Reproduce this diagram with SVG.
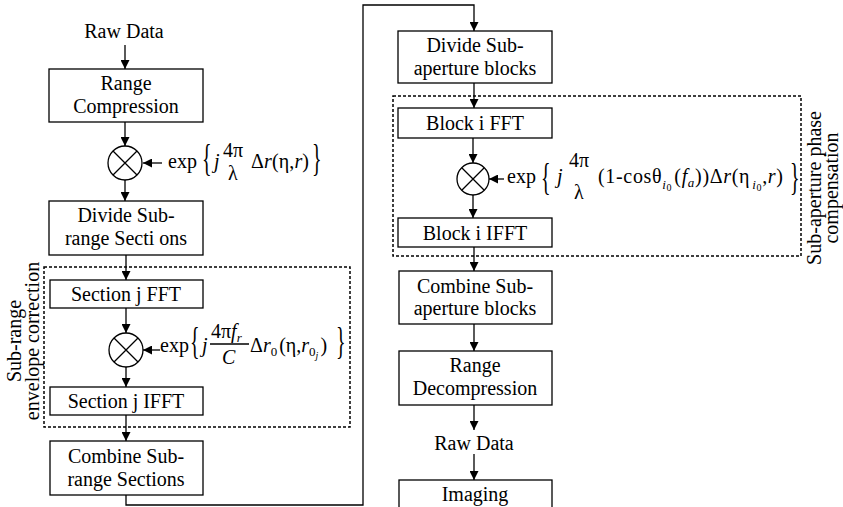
<svg xmlns="http://www.w3.org/2000/svg" width="843" height="507" viewBox="0 0 843 507" font-family="'Liberation Serif', 'Times New Roman', Times, serif">
<style>
.t{font-family:'Liberation Serif','Times New Roman',Times,serif;font-size:20px;fill:#000}
.c{text-anchor:middle}
.i{font-style:italic}
.s{font-size:13px}
.ss{font-size:10px}
.box{fill:#fff;stroke:#000;stroke-width:1.3}
.dash{fill:none;stroke:#000;stroke-width:1.5;stroke-dasharray:3 2}
.ln{fill:none;stroke:#000;stroke-width:1.3}
.mul{fill:#fff;stroke:#000;stroke-width:1.3}
</style>
<defs>
<marker id="ah" viewBox="0 0 10 10" refX="10" refY="5" markerWidth="10" markerHeight="9" markerUnits="userSpaceOnUse" orient="auto">
<path d="M0,0 L10,5 L0,10 z" fill="#000"/>
</marker>
</defs>
<rect width="843" height="507" fill="#fff"/>

<g id="group-subrange">
<rect class="dash" x="44" y="267" width="306" height="160"/>
<text class="t c" transform="translate(21,341) rotate(-90)">Sub-range</text>
<text class="t c" transform="translate(39,341) rotate(-90)">envelope correction</text>
</g>
<g id="group-subaperture">
<rect class="dash" x="393" y="96" width="408" height="160"/>
<text class="t c" transform="translate(821,188) rotate(-90)">Sub-aperture phase</text>
<text class="t c" transform="translate(838,188) rotate(-90)">compensation</text>
</g>

<g id="connectors">
<line class="ln" x1="125" y1="45" x2="125" y2="69" marker-end="url(#ah)"/>
<line class="ln" x1="125" y1="122" x2="125" y2="146" marker-end="url(#ah)"/>
<line class="ln" x1="162" y1="163" x2="143" y2="163" marker-end="url(#ah)"/>
<line class="ln" x1="125" y1="180" x2="125" y2="201" marker-end="url(#ah)"/>
<line class="ln" x1="126" y1="255" x2="126" y2="280" marker-end="url(#ah)"/>
<line class="ln" x1="126" y1="308" x2="126" y2="333" marker-end="url(#ah)"/>
<line class="ln" x1="160" y1="350" x2="143" y2="350" marker-end="url(#ah)"/>
<line class="ln" x1="126" y1="367" x2="126" y2="387" marker-end="url(#ah)"/>
<line class="ln" x1="126" y1="415" x2="126" y2="441" marker-end="url(#ah)"/>
<polyline class="ln" points="126,495 126,505 363,505 363,5 474,5 474,31" marker-end="url(#ah)"/>
<line class="ln" x1="474" y1="83" x2="474" y2="108" marker-end="url(#ah)"/>
<line class="ln" x1="473" y1="138" x2="473" y2="163" marker-end="url(#ah)"/>
<line class="ln" x1="504" y1="179" x2="489" y2="179" marker-end="url(#ah)"/>
<line class="ln" x1="473" y1="195" x2="473" y2="218" marker-end="url(#ah)"/>
<line class="ln" x1="474" y1="247" x2="474" y2="271" marker-end="url(#ah)"/>
<line class="ln" x1="474" y1="324" x2="474" y2="351" marker-end="url(#ah)"/>
<line class="ln" x1="474" y1="405" x2="474" y2="430" marker-end="url(#ah)"/>
<line class="ln" x1="474" y1="454" x2="474" y2="480" marker-end="url(#ah)"/>
</g>

<g id="raw-data-in"><text class="t c" x="124" y="38">Raw Data</text></g>
<g id="range-compression">
<rect class="box" x="49" y="69" width="154" height="53"/>
<text class="t c" x="126" y="90">Range</text>
<text class="t c" x="126" y="113">Compression</text>
</g>
<g id="mult1">
<circle class="mul" cx="125" cy="163" r="17"/>
<path class="ln" d="M113,151 L137,175 M137,151 L113,175"/>
</g>
<g id="formula1">
<text class="t" x="168" y="168">exp</text>
<text class="t" transform="translate(202,171) scale(1,1.9)">{</text>
<text class="t i" x="214" y="168">j</text>
<text class="t" x="223" y="157">4π</text>
<text class="t" x="228" y="180">λ</text>
<text class="t" x="251" y="168" textLength="58" lengthAdjust="spacing">Δ<tspan class="i">r</tspan>(η,<tspan class="i">r</tspan>)</text>
<text class="t" transform="translate(312,171) scale(1,1.9)">}</text>
</g>
<g id="divide-subrange">
<rect class="box" x="49" y="201" width="154" height="54"/>
<text class="t c" x="126" y="222">Divide Sub-</text>
<text class="t c" x="126" y="245">range Secti ons</text>
</g>
<g id="section-fft">
<rect class="box" x="50" y="280" width="153" height="28"/>
<text class="t c" x="126" y="301">Section j FFT</text>
</g>
<g id="mult2">
<circle class="mul" cx="126" cy="350" r="17"/>
<path class="ln" d="M114,338 L138,362 M138,338 L114,362"/>
</g>
<g id="formula2">
<text class="t" x="160" y="352">exp</text>
<text class="t" transform="translate(190,353.5) scale(1,1.9)">{</text>
<text class="t i" x="202" y="352">j</text>
<text class="t" x="211" y="338">4π<tspan class="i">f</tspan><tspan class="i s" dy="4">r</tspan></text>
<line class="ln" x1="210" y1="344" x2="249" y2="344" stroke-width="1"/>
<text class="t i" x="222" y="364">C</text>
<text class="t" x="250" y="352">Δ<tspan class="i">r</tspan><tspan class="s" dy="4">0</tspan><tspan dy="-4" dx="2">(η,</tspan><tspan class="i">r</tspan><tspan class="s" dy="4">0</tspan><tspan class="i ss" dy="3">j</tspan><tspan dy="-7" dx="2">)</tspan></text>
<text class="t" transform="translate(336,353.5) scale(1,1.9)">}</text>
</g>
<g id="section-ifft">
<rect class="box" x="50" y="387" width="153" height="28"/>
<text class="t c" x="126" y="408">Section j IFFT</text>
</g>
<g id="combine-subrange">
<rect class="box" x="50" y="441" width="153" height="54"/>
<text class="t c" x="126" y="463">Combine Sub-</text>
<text class="t c" x="126" y="486">range Sections</text>
</g>

<g id="divide-subaperture">
<rect class="box" x="398" y="31" width="154" height="52"/>
<text class="t c" x="475" y="52">Divide Sub-</text>
<text class="t c" x="475" y="75">aperture blocks</text>
</g>
<g id="block-fft">
<rect class="box" x="398" y="108" width="154" height="30"/>
<text class="t c" x="475" y="130">Block i FFT</text>
</g>
<g id="mult3">
<circle class="mul" cx="473" cy="179" r="16"/>
<path class="ln" d="M462,168 L484,190 M484,168 L462,190"/>
</g>
<g id="formula3">
<text class="t" x="507" y="183">exp</text>
<text class="t" transform="translate(541,189.5) scale(1,1.9)">{</text>
<text class="t i" x="557" y="183">j</text>
<text class="t" x="569" y="167">4π</text>
<text class="t" x="574" y="199">λ</text>
<text class="t" x="598" y="183" textLength="185" lengthAdjust="spacing">(1-cosθ<tspan class="i s" dy="6">i</tspan><tspan class="ss" dy="2">0</tspan><tspan dy="-8" dx="2">(</tspan><tspan class="i">f</tspan><tspan class="i s" dy="4">a</tspan><tspan dy="-4">))Δ</tspan><tspan class="i">r</tspan>(η<tspan class="i s" dy="6" dx="2">i</tspan><tspan class="ss" dy="2">0</tspan><tspan dy="-8">,</tspan><tspan class="i">r</tspan>)</text>
<text class="t" transform="translate(790,189.5) scale(1,1.9)">}</text>
</g>
<g id="block-ifft">
<rect class="box" x="398" y="218" width="154" height="29"/>
<text class="t c" x="475" y="240">Block i IFFT</text>
</g>
<g id="combine-subaperture">
<rect class="box" x="399" y="271" width="153" height="53"/>
<text class="t c" x="475" y="293">Combine Sub-</text>
<text class="t c" x="475" y="315">aperture blocks</text>
</g>
<g id="range-decompression">
<rect class="box" x="399" y="351" width="153" height="54"/>
<text class="t c" x="475" y="372">Range</text>
<text class="t c" x="475" y="395">Decompression</text>
</g>
<g id="raw-data-out"><text class="t c" x="474" y="450">Raw Data</text></g>
<g id="imaging">
<rect class="box" x="399" y="480" width="153" height="40"/>
<text class="t c" x="475" y="501">Imaging</text>
</g>
</svg>
